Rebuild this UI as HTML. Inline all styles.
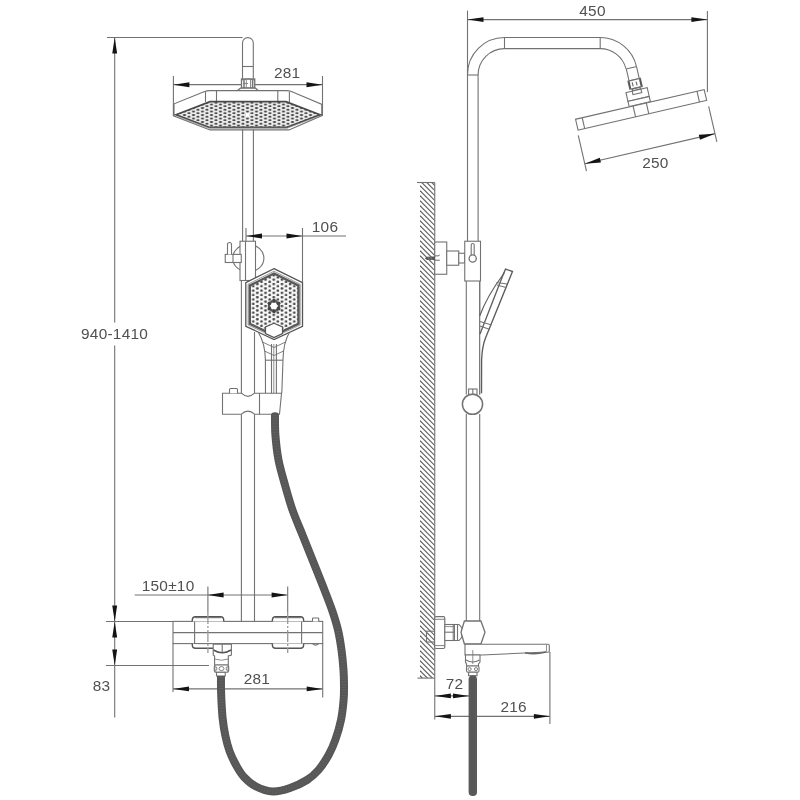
<!DOCTYPE html>
<html><head><meta charset="utf-8"><style>
html,body{margin:0;padding:0;background:#fff;}
svg{display:block;font-family:"Liberation Sans",sans-serif;will-change:transform;}
</style></head><body>
<svg width="800" height="800" viewBox="0 0 800 800">
<rect width="800" height="800" fill="#fff"/>
<defs>
<pattern id="dots" width="9" height="3.5" patternUnits="userSpaceOnUse" x="245.25" y="114.125">
<rect width="9" height="3.5" fill="#f2f2f2"/>
<ellipse cx="2.25" cy="0.875" rx="1.6" ry="1.1" fill="#484848"/>
<ellipse cx="6.75" cy="2.625" rx="1.6" ry="1.1" fill="#484848"/>
</pattern>
<pattern id="hdots" width="8.2" height="4.4" patternUnits="userSpaceOnUse" x="271.7" y="304.9">
<rect width="8.2" height="4.4" fill="#fafafa"/>
<circle cx="2.05" cy="1.1" r="1.35" fill="#4a4a4a"/>
<circle cx="6.15" cy="3.3" r="1.35" fill="#4a4a4a"/>
</pattern>
<clipPath id="wallclip"><rect x="420" y="182.5" width="14.75" height="495.6"/></clipPath>
</defs>
<line x1="114.7" y1="37.5" x2="114.7" y2="322.5" stroke="#727272" stroke-width="1.1" />
<line x1="114.7" y1="345.6" x2="114.7" y2="717.5" stroke="#727272" stroke-width="1.1" />
<line x1="107" y1="37.5" x2="242.5" y2="37.5" stroke="#727272" stroke-width="1.1" />
<polygon points="114.70,37.50 112.25,53.50 117.15,53.50" fill="#141414"/>
<polygon points="114.70,621.50 117.15,605.50 112.25,605.50" fill="#141414"/>
<polygon points="114.70,621.50 112.25,637.50 117.15,637.50" fill="#141414"/>
<polygon points="114.70,665.50 117.15,649.50 112.25,649.50" fill="#141414"/>
<line x1="106" y1="621.5" x2="173" y2="621.5" stroke="#727272" stroke-width="1.1" />
<line x1="106" y1="665.5" x2="209" y2="665.5" stroke="#727272" stroke-width="1.1" />
<text x="114.6" y="339.4" font-size="15.4" text-anchor="middle" fill="#505050" letter-spacing="0.25">940-1410</text>
<text x="101.6" y="691.2" font-size="15.4" text-anchor="middle" fill="#505050" letter-spacing="0.25">83</text>
<path d="M242.5,91 L242.5,43 A5.4,5.4 0 0 1 253.3,43 L253.3,91" stroke="#727272" stroke-width="1.1" fill="#fff" />
<line x1="242.5" y1="66.5" x2="253.3" y2="66.5" stroke="#727272" stroke-width="1.1" />
<line x1="173.4" y1="76" x2="173.4" y2="116" stroke="#727272" stroke-width="1.1" />
<line x1="322.5" y1="76" x2="322.5" y2="116" stroke="#727272" stroke-width="1.1" />
<line x1="173.4" y1="84.7" x2="322.5" y2="84.7" stroke="#727272" stroke-width="1.3" />
<polygon points="173.40,84.70 189.40,87.15 189.40,82.25" fill="#141414"/>
<polygon points="322.50,84.70 306.50,82.25 306.50,87.15" fill="#141414"/>
<text x="287.2" y="77.75" font-size="15.4" text-anchor="middle" fill="#505050" letter-spacing="0.25">281</text>
<rect x="241.5" y="79" width="13.25" height="9" rx="0" stroke="#727272" stroke-width="1.3" fill="#fff"/>
<path d="M241.5,80 Q248,77.5 254.75,80" stroke="#727272" stroke-width="1" fill="none" />
<line x1="244" y1="80" x2="244" y2="88" stroke="#555" stroke-width="1.2" />
<line x1="246.3" y1="80" x2="246.3" y2="88" stroke="#727272" stroke-width="0.8" />
<line x1="250.5" y1="80" x2="250.5" y2="88" stroke="#727272" stroke-width="0.8" />
<line x1="252.6" y1="80" x2="252.6" y2="88" stroke="#777" stroke-width="1.6" />
<line x1="243" y1="83.5" x2="248" y2="83.5" stroke="#727272" stroke-width="0.8" />
<path d="M237.5,90.5 L240.5,88.2 L255.5,88.2 L258,90.5 Z" stroke="#727272" stroke-width="1.2" fill="#fff" />
<path d="M210,90.6 L286,90.6 Q289,90.6 292,91.8 L322,104.4 L322,115.6 L289,129.9 L210,129.9 L173.5,115.8 L173.5,104 L204,91.8 Q207,90.6 210,90.6 Z" stroke="#727272" stroke-width="1.1" fill="#fff" />
<line x1="205.5" y1="92" x2="205.5" y2="102" stroke="#727272" stroke-width="1.1" />
<line x1="216.5" y1="90.6" x2="216.5" y2="101.5" stroke="#727272" stroke-width="1.1" />
<line x1="277.8" y1="90.6" x2="277.8" y2="101.5" stroke="#727272" stroke-width="1.1" />
<line x1="289.4" y1="92" x2="289.4" y2="102" stroke="#727272" stroke-width="1.1" />
<line x1="174" y1="104" x2="174" y2="116" stroke="#727272" stroke-width="1.1" />
<line x1="322" y1="104.4" x2="322" y2="116" stroke="#727272" stroke-width="1.1" />
<path d="M176,114.8 L210,101.6 L286,101.6 L320,114.8 L287,127.3 L209,127.3 Z" stroke="#4a4a4a" stroke-width="1.7" fill="url(#dots)" />
<rect x="246" y="113.5" width="3" height="3" fill="#fff"/>
<path d="M178,116.6 L209,128.2 L287,128.2 L318,116.6" stroke="#999" stroke-width="0.7" fill="none" />
<line x1="242.6" y1="129.6" x2="242.6" y2="241.25" stroke="#727272" stroke-width="1.1" />
<line x1="253.4" y1="129.6" x2="253.4" y2="241.25" stroke="#727272" stroke-width="1.1" />
<line x1="246" y1="228" x2="246" y2="281" stroke="#727272" stroke-width="1.1" />
<line x1="302.5" y1="228" x2="302.5" y2="283" stroke="#727272" stroke-width="1.1" />
<line x1="246" y1="236" x2="346" y2="236" stroke="#727272" stroke-width="1.1" />
<polygon points="246.00,236.00 262.00,238.45 262.00,233.55" fill="#141414"/>
<polygon points="302.50,236.00 286.50,233.55 286.50,238.45" fill="#141414"/>
<text x="325" y="232.4" font-size="15.4" text-anchor="middle" fill="#505050" letter-spacing="0.25">106</text>
<ellipse cx="248.3" cy="258.2" rx="15.6" ry="13.8" fill="#fff" stroke="#727272" stroke-width="1.1"/>
<rect x="240" y="241.25" width="15.5" height="39.25" rx="0" stroke="#727272" stroke-width="1.1" fill="#fff"/>
<line x1="245.5" y1="241.25" x2="245.5" y2="280.5" stroke="#727272" stroke-width="1.1" />
<rect x="225.25" y="254.4" width="16" height="8.1" rx="0" stroke="#727272" stroke-width="1.1" fill="#fff"/>
<line x1="233" y1="254.4" x2="233" y2="262.5" stroke="#727272" stroke-width="1.1" />
<path d="M227.5,254.4 L227.5,244.5 A2,2 0 0 1 231.5,244.5 L231.5,254.4" stroke="#727272" stroke-width="1.1" fill="#fff" />
<line x1="241.4" y1="280.5" x2="241.4" y2="393.2" stroke="#727272" stroke-width="1.1" />
<line x1="254.5" y1="332" x2="254.5" y2="393.2" stroke="#727272" stroke-width="1.1" />
<line x1="241.4" y1="414.2" x2="241.4" y2="621.4" stroke="#727272" stroke-width="1.1" />
<line x1="254.5" y1="414.2" x2="254.5" y2="621.4" stroke="#727272" stroke-width="1.1" />
<path d="M274,268.6 L302.5,282.6 L302.5,326.3 L274,339.5 L245.8,326.3 L245.8,282.6 Z" stroke="#555" stroke-width="1.3" fill="#fff" />
<path d="M274,271.2 L300.2,284.2 L300.2,325 L274,337.2 L248.1,325 L248.1,284.2 Z" stroke="#888" stroke-width="0.8" fill="none" />
<path d="M274,273.5 L298.5,285.6 L298.5,323.8 L274,335.3 L249.8,323.8 L249.8,285.6 Z" stroke="#5a5a5a" stroke-width="2.4" fill="url(#hdots)" />
<circle cx="274.00" cy="311.30" r="1.9" fill="#444"/>
<circle cx="279.00" cy="306.00" r="1.3" fill="#555"/>
<circle cx="269.41" cy="308.65" r="1.9" fill="#444"/>
<circle cx="276.50" cy="310.33" r="1.3" fill="#555"/>
<circle cx="269.41" cy="303.35" r="1.9" fill="#444"/>
<circle cx="271.50" cy="310.33" r="1.3" fill="#555"/>
<circle cx="274.00" cy="300.70" r="1.9" fill="#444"/>
<circle cx="269.00" cy="306.00" r="1.3" fill="#555"/>
<circle cx="278.59" cy="303.35" r="1.9" fill="#444"/>
<circle cx="271.50" cy="301.67" r="1.3" fill="#555"/>
<circle cx="278.59" cy="308.65" r="1.9" fill="#444"/>
<circle cx="276.50" cy="301.67" r="1.3" fill="#555"/>
<circle cx="274" cy="306" r="3.0" fill="#fff"/>
<path d="M265.5,331 L265.5,327 L274,323.3 L282.5,327 L282.5,333.5 L274,337.5 L265.5,333.5 Z" stroke="#555" stroke-width="1.2" fill="#fff" />
<path d="M261,339 L274,345 L287,339 C284.5,342 283.1,350 283,360 L282.5,394 L265.5,394 L265.4,360 C265.3,350 263.5,342 261,339 Z" fill="#fff" stroke="none"/>
<path d="M258.3,332.3 C263,340 265.3,350 265.4,360 L265.5,394" stroke="#727272" stroke-width="1.1" fill="none" />
<path d="M289.5,332.3 C285,340 283.1,350 283,360 L281.8,393.2" stroke="#727272" stroke-width="1.1" fill="none" />
<line x1="271.5" y1="344" x2="271.5" y2="394" stroke="#727272" stroke-width="1.1" />
<line x1="273.8" y1="344" x2="273.8" y2="394" stroke="#727272" stroke-width="0.8" />
<line x1="276.4" y1="344" x2="276.4" y2="394" stroke="#727272" stroke-width="1.1" />
<line x1="265.4" y1="360.2" x2="283" y2="360.2" stroke="#727272" stroke-width="1.1" />
<path d="M262.5,342 L274,347.5 L285.5,342" stroke="#727272" stroke-width="0.9" fill="none" />
<path d="M264.5,351 L274,355.5 L283.5,351" stroke="#727272" stroke-width="0.9" fill="none" />
<path d="M222.5,393.2 L241.4,393.2 Q248,399.5 254.5,393.2 L281.5,393.2 L279.5,414.2 L254.5,414.2 Q248,408 241.4,414.2 L222.5,414.2 Z" stroke="#727272" stroke-width="1.1" fill="#fff" />
<line x1="259.5" y1="393.2" x2="259.5" y2="414.2" stroke="#727272" stroke-width="1.1" />
<path d="M229.5,393.2 L229.5,389.5 Q229.5,388.5 230.5,388.5 L236.5,388.5 Q237.5,388.5 237.5,389.5 L237.5,393.2" stroke="#727272" stroke-width="1.1" fill="#fff" />
<line x1="134.7" y1="595" x2="287.6" y2="595" stroke="#727272" stroke-width="1.1" />
<polygon points="207.60,595.00 223.60,597.45 223.60,592.55" fill="#141414"/>
<polygon points="287.60,595.00 271.60,592.55 271.60,597.45" fill="#141414"/>
<text x="168.1" y="591.25" font-size="15.4" text-anchor="middle" fill="#505050" letter-spacing="0.25">150±10</text>
<rect x="173" y="621.4" width="149.7" height="22.2" rx="0" stroke="#727272" stroke-width="1.1" fill="#fff"/>
<line x1="173" y1="632.6" x2="322.7" y2="632.6" stroke="#727272" stroke-width="1.1" />
<path d="M192.3,621.4 L192.3,620 Q192.3,616.8 195.5,616.8 L220.5,616.8 Q223.7,616.8 223.7,620 L223.7,621.4" stroke="#555" stroke-width="1.4" fill="#fff" />
<line x1="195" y1="617.6" x2="221" y2="617.6" stroke="#777" stroke-width="1.2" />
<path d="M192.3,643.6 L192.3,645 Q192.3,648.2 195.5,648.2 L213,648.2" stroke="#555" stroke-width="1.4" fill="#fff" />
<line x1="194.6" y1="621.4" x2="194.6" y2="643.6" stroke="#727272" stroke-width="1.1" />
<path d="M272.4,621.4 L272.4,620 Q272.4,616.8 275.6,616.8 L300.4,616.8 Q303.6,616.8 303.6,620 L303.6,621.4" stroke="#555" stroke-width="1.4" fill="#fff" />
<line x1="275" y1="617.6" x2="301" y2="617.6" stroke="#777" stroke-width="1.2" />
<path d="M272.4,643.6 L272.4,645 Q272.4,648.2 275.6,648.2 L300.4,648.2 Q303.6,648.2 303.6,645 L303.6,643.6" stroke="#555" stroke-width="1.4" fill="#fff" />
<line x1="301.6" y1="621.4" x2="301.6" y2="643.6" stroke="#727272" stroke-width="1.1" />
<path d="M312.5,621.4 L312.5,618.5 Q312.5,618 313,618 L318.2,618 Q318.7,618 318.7,618.5 L318.7,621.4" stroke="#727272" stroke-width="1.1" fill="#fff" />
<path d="M312.5,643.6 Q315.6,646.5 318.7,643.6" stroke="#727272" stroke-width="1.1" fill="none" />
<line x1="207.9" y1="586.6" x2="207.9" y2="612" stroke="#727272" stroke-width="1.1" />
<line x1="287.7" y1="586.6" x2="287.7" y2="612" stroke="#727272" stroke-width="1.1" />
<line x1="207.9" y1="612" x2="207.9" y2="653" stroke="#999" stroke-width="1.3" stroke-dasharray="12 2 2 2"/>
<line x1="287.7" y1="612" x2="287.7" y2="653" stroke="#999" stroke-width="1.3" stroke-dasharray="12 2 2 2"/>
<path d="M213.2,644.2 L231.4,644.2 L231.4,655 L228.3,656 L228.3,665 L214.6,665 L214.6,656 L213.2,655 Z" stroke="#727272" stroke-width="1.1" fill="#fff" />
<line x1="222.2" y1="644.2" x2="222.2" y2="652" stroke="#727272" stroke-width="1.1" />
<path d="M213.5,650 Q222.3,655.5 231,650" stroke="#555" stroke-width="1.5" fill="none" />
<path d="M214.6,659 Q221.5,661.5 228.3,659" stroke="#727272" stroke-width="0.8" fill="none" />
<rect x="214.3" y="665" width="14.4" height="7.3" rx="2" stroke="#727272" stroke-width="1.1" fill="#fff"/>
<ellipse cx="221.5" cy="668.6" rx="2.5" ry="2" fill="none" stroke="#727272" stroke-width="0.9"/>
<ellipse cx="215.8" cy="668.6" rx="1" ry="2" fill="none" stroke="#727272" stroke-width="0.9"/>
<ellipse cx="227.2" cy="668.6" rx="1" ry="2" fill="none" stroke="#727272" stroke-width="0.9"/>
<rect x="216.5" y="672.3" width="8.75" height="3.7" rx="0" stroke="#727272" stroke-width="1.1" fill="#fff"/>
<line x1="173" y1="643.6" x2="173" y2="692" stroke="#727272" stroke-width="1.1" />
<line x1="322.7" y1="643.6" x2="322.7" y2="697.5" stroke="#727272" stroke-width="1.1" />
<line x1="173" y1="688.9" x2="322.7" y2="688.9" stroke="#727272" stroke-width="1.1" />
<polygon points="173.00,688.90 189.00,691.35 189.00,686.45" fill="#141414"/>
<polygon points="322.70,688.90 306.70,686.45 306.70,691.35" fill="#141414"/>
<text x="256.9" y="684.4" font-size="15.4" text-anchor="middle" fill="#505050" letter-spacing="0.25">281</text>
<path d="M275,414.8 C275.07,418.17 274.82,427.47 275.4,435 C275.98,442.53 276.90,451.67 278.5,460 C280.10,468.33 282.67,476.67 285,485 C287.33,493.33 289.58,501.67 292.5,510 C295.42,518.33 299.17,526.67 302.5,535 C305.83,543.33 309.17,551.67 312.5,560 C315.83,568.33 319.25,576.67 322.5,585 C325.75,593.33 329.42,602.50 332,610 C334.58,617.50 336.42,623.33 338,630 C339.58,636.67 340.58,643.33 341.5,650 C342.42,656.67 343.08,664.17 343.5,670 C343.92,675.83 343.98,680.00 344,685 C344.02,690.00 344.10,694.17 343.6,700 C343.10,705.83 342.38,713.33 341,720 C339.62,726.67 337.37,734.17 335.3,740 C333.23,745.83 331.40,750.00 328.6,755 C325.80,760.00 322.10,765.83 318.5,770 C314.90,774.17 311.75,777.00 307,780 C302.25,783.00 295.67,786.08 290,788 C284.33,789.92 278.67,791.75 273,791.5 C267.33,791.25 260.83,788.92 256,786.5 C251.17,784.08 247.33,780.58 244,777 C240.67,773.42 238.42,769.33 236,765 C233.58,760.67 231.30,756.00 229.5,751 C227.70,746.00 226.35,740.50 225.2,735 C224.05,729.50 223.23,723.83 222.6,718 C221.97,712.17 221.67,705.00 221.4,700 C221.13,695.00 221.07,692.00 221,688 C220.93,684.00 221.00,678.00 221,676" stroke="#565656" stroke-width="8.0" fill="none" />
<path d="M271,415.5 A4,3.2 0 0 1 279,415.5 Z" fill="#565656"/>
<path d="M275,414.8 C275.07,418.17 274.82,427.47 275.4,435 C275.98,442.53 276.90,451.67 278.5,460 C280.10,468.33 282.67,476.67 285,485 C287.33,493.33 289.58,501.67 292.5,510 C295.42,518.33 299.17,526.67 302.5,535 C305.83,543.33 309.17,551.67 312.5,560 C315.83,568.33 319.25,576.67 322.5,585 C325.75,593.33 329.42,602.50 332,610 C334.58,617.50 336.42,623.33 338,630 C339.58,636.67 340.58,643.33 341.5,650 C342.42,656.67 343.08,664.17 343.5,670 C343.92,675.83 343.98,680.00 344,685 C344.02,690.00 344.10,694.17 343.6,700 C343.10,705.83 342.38,713.33 341,720 C339.62,726.67 337.37,734.17 335.3,740 C333.23,745.83 331.40,750.00 328.6,755 C325.80,760.00 322.10,765.83 318.5,770 C314.90,774.17 311.75,777.00 307,780 C302.25,783.00 295.67,786.08 290,788 C284.33,789.92 278.67,791.75 273,791.5 C267.33,791.25 260.83,788.92 256,786.5 C251.17,784.08 247.33,780.58 244,777 C240.67,773.42 238.42,769.33 236,765 C233.58,760.67 231.30,756.00 229.5,751 C227.70,746.00 226.35,740.50 225.2,735 C224.05,729.50 223.23,723.83 222.6,718 C221.97,712.17 221.67,705.00 221.4,700 C221.13,695.00 221.07,692.00 221,688 C220.93,684.00 221.00,678.00 221,676" stroke="#5f5f5f" stroke-width="5.0" fill="none" stroke-dasharray="1.2 1.6"/>
<line x1="467.5" y1="10.6" x2="467.5" y2="75" stroke="#727272" stroke-width="1.1" />
<line x1="707.4" y1="11" x2="707.4" y2="92" stroke="#727272" stroke-width="1.1" />
<line x1="467.5" y1="19.6" x2="707.4" y2="19.6" stroke="#727272" stroke-width="1.1" />
<polygon points="467.50,19.60 483.50,22.05 483.50,17.15" fill="#141414"/>
<polygon points="707.40,19.60 691.40,17.15 691.40,22.05" fill="#141414"/>
<text x="592.5" y="15.6" font-size="15.4" text-anchor="middle" fill="#505050" letter-spacing="0.25">450</text>
<path d="M467.5,241.25 L467.5,74.5 A37,37 0 0 1 504.5,37.5 L600,37.5 A37.5,37.5 0 0 1 636.5,66.6" stroke="#727272" stroke-width="1.1" fill="none" />
<path d="M478.1,241.25 L478.1,75 A26.4,26.4 0 0 1 504.5,48.6 L600,48.6 A26.6,26.6 0 0 1 625.9,68.6" stroke="#727272" stroke-width="1.1" fill="none" />
<line x1="467.5" y1="75" x2="478.1" y2="75" stroke="#727272" stroke-width="1.1" />
<line x1="504.5" y1="37.5" x2="504.5" y2="48.6" stroke="#727272" stroke-width="1.1" />
<line x1="600.2" y1="37.5" x2="600.2" y2="48.6" stroke="#727272" stroke-width="1.1" />
<g transform="translate(631.4,67.75) rotate(-13)">
<rect x="-5.25" y="0" width="10.5" height="12.3" rx="0" stroke="#727272" stroke-width="1.1" fill="#fff"/>
<rect x="-6.3" y="12.3" width="12.6" height="8.4" rx="0" stroke="#727272" stroke-width="1.3" fill="#fff"/>
<line x1="-5.6" y1="12.8" x2="-5.6" y2="20.2" stroke="#555" stroke-width="1.6" />
<line x1="5.6" y1="12.8" x2="5.6" y2="20.2" stroke="#555" stroke-width="1.6" />
<line x1="-2.5" y1="14.5" x2="-2.5" y2="18.5" stroke="#727272" stroke-width="1.2" />
<line x1="1.5" y1="14.5" x2="1.5" y2="18.5" stroke="#727272" stroke-width="1.2" />
<rect x="-4" y="20.9" width="8" height="2.2" rx="0" stroke="#727272" stroke-width="1.2" fill="#ddd"/>
<rect x="-10.9" y="23" width="21.8" height="9" rx="0" stroke="#727272" stroke-width="1.1" fill="#fff"/>
<rect x="-4.5" y="23" width="9" height="3.5" rx="0" stroke="#727272" stroke-width="1.1" fill="#fff"/>
<rect x="-10.9" y="32" width="21.8" height="5.3" rx="0" stroke="#727272" stroke-width="1.1" fill="#fff"/>
<rect x="-66" y="37.6" width="132" height="11.2" rx="0" stroke="#727272" stroke-width="1.1" fill="#fff"/>
<line x1="-59.2" y1="37.6" x2="-59.2" y2="48.8" stroke="#727272" stroke-width="1.1" />
<line x1="58.6" y1="37.6" x2="58.6" y2="48.8" stroke="#727272" stroke-width="1.1" />
<line x1="-7" y1="37.6" x2="-7" y2="48.8" stroke="#727272" stroke-width="1.1" />
<line x1="6.6" y1="37.6" x2="6.6" y2="48.8" stroke="#727272" stroke-width="1.1" />
<line x1="-67" y1="54" x2="-67" y2="90.5" stroke="#727272" stroke-width="1.1" />
<line x1="66.6" y1="55" x2="66.6" y2="91.5" stroke="#727272" stroke-width="1.1" />
<line x1="-67" y1="83" x2="66.6" y2="83" stroke="#727272" stroke-width="1.1" />
<polygon points="-67.00,83.00 -51.00,85.45 -51.00,80.55" fill="#141414"/>
<polygon points="66.60,83.00 50.60,80.55 50.60,85.45" fill="#141414"/>
</g>
<text x="655.4" y="168.4" font-size="15.4" text-anchor="middle" fill="#505050" letter-spacing="0.25">250</text>
<g clip-path="url(#wallclip)" stroke="#606060" stroke-width="1.2"><line x1="420" y1="150.75" x2="436" y2="166.75"/><line x1="420" y1="155.75" x2="436" y2="171.75"/><line x1="420" y1="160.75" x2="436" y2="176.75"/><line x1="420" y1="165.75" x2="436" y2="181.75"/><line x1="420" y1="170.75" x2="436" y2="186.75"/><line x1="420" y1="175.75" x2="436" y2="191.75"/><line x1="420" y1="180.75" x2="436" y2="196.75"/><line x1="420" y1="185.75" x2="436" y2="201.75"/><line x1="420" y1="190.75" x2="436" y2="206.75"/><line x1="420" y1="195.75" x2="436" y2="211.75"/><line x1="420" y1="200.75" x2="436" y2="216.75"/><line x1="420" y1="205.75" x2="436" y2="221.75"/><line x1="420" y1="210.75" x2="436" y2="226.75"/><line x1="420" y1="215.75" x2="436" y2="231.75"/><line x1="420" y1="220.75" x2="436" y2="236.75"/><line x1="420" y1="225.75" x2="436" y2="241.75"/><line x1="420" y1="230.75" x2="436" y2="246.75"/><line x1="420" y1="235.75" x2="436" y2="251.75"/><line x1="420" y1="240.75" x2="436" y2="256.75"/><line x1="420" y1="245.75" x2="436" y2="261.75"/><line x1="420" y1="250.75" x2="436" y2="266.75"/><line x1="420" y1="255.75" x2="436" y2="271.75"/><line x1="420" y1="260.75" x2="436" y2="276.75"/><line x1="420" y1="265.75" x2="436" y2="281.75"/><line x1="420" y1="270.75" x2="436" y2="286.75"/><line x1="420" y1="275.75" x2="436" y2="291.75"/><line x1="420" y1="280.75" x2="436" y2="296.75"/><line x1="420" y1="285.75" x2="436" y2="301.75"/><line x1="420" y1="290.75" x2="436" y2="306.75"/><line x1="420" y1="295.75" x2="436" y2="311.75"/><line x1="420" y1="300.75" x2="436" y2="316.75"/><line x1="420" y1="305.75" x2="436" y2="321.75"/><line x1="420" y1="310.75" x2="436" y2="326.75"/><line x1="420" y1="315.75" x2="436" y2="331.75"/><line x1="420" y1="320.75" x2="436" y2="336.75"/><line x1="420" y1="325.75" x2="436" y2="341.75"/><line x1="420" y1="330.75" x2="436" y2="346.75"/><line x1="420" y1="335.75" x2="436" y2="351.75"/><line x1="420" y1="340.75" x2="436" y2="356.75"/><line x1="420" y1="345.75" x2="436" y2="361.75"/><line x1="420" y1="350.75" x2="436" y2="366.75"/><line x1="420" y1="355.75" x2="436" y2="371.75"/><line x1="420" y1="360.75" x2="436" y2="376.75"/><line x1="420" y1="365.75" x2="436" y2="381.75"/><line x1="420" y1="370.75" x2="436" y2="386.75"/><line x1="420" y1="375.75" x2="436" y2="391.75"/><line x1="420" y1="380.75" x2="436" y2="396.75"/><line x1="420" y1="385.75" x2="436" y2="401.75"/><line x1="420" y1="390.75" x2="436" y2="406.75"/><line x1="420" y1="395.75" x2="436" y2="411.75"/><line x1="420" y1="400.75" x2="436" y2="416.75"/><line x1="420" y1="405.75" x2="436" y2="421.75"/><line x1="420" y1="410.75" x2="436" y2="426.75"/><line x1="420" y1="415.75" x2="436" y2="431.75"/><line x1="420" y1="420.75" x2="436" y2="436.75"/><line x1="420" y1="425.75" x2="436" y2="441.75"/><line x1="420" y1="430.75" x2="436" y2="446.75"/><line x1="420" y1="435.75" x2="436" y2="451.75"/><line x1="420" y1="440.75" x2="436" y2="456.75"/><line x1="420" y1="445.75" x2="436" y2="461.75"/><line x1="420" y1="450.75" x2="436" y2="466.75"/><line x1="420" y1="455.75" x2="436" y2="471.75"/><line x1="420" y1="460.75" x2="436" y2="476.75"/><line x1="420" y1="465.75" x2="436" y2="481.75"/><line x1="420" y1="470.75" x2="436" y2="486.75"/><line x1="420" y1="475.75" x2="436" y2="491.75"/><line x1="420" y1="480.75" x2="436" y2="496.75"/><line x1="420" y1="485.75" x2="436" y2="501.75"/><line x1="420" y1="490.75" x2="436" y2="506.75"/><line x1="420" y1="495.75" x2="436" y2="511.75"/><line x1="420" y1="500.75" x2="436" y2="516.75"/><line x1="420" y1="505.75" x2="436" y2="521.75"/><line x1="420" y1="510.75" x2="436" y2="526.75"/><line x1="420" y1="515.75" x2="436" y2="531.75"/><line x1="420" y1="520.75" x2="436" y2="536.75"/><line x1="420" y1="525.75" x2="436" y2="541.75"/><line x1="420" y1="530.75" x2="436" y2="546.75"/><line x1="420" y1="535.75" x2="436" y2="551.75"/><line x1="420" y1="540.75" x2="436" y2="556.75"/><line x1="420" y1="545.75" x2="436" y2="561.75"/><line x1="420" y1="550.75" x2="436" y2="566.75"/><line x1="420" y1="555.75" x2="436" y2="571.75"/><line x1="420" y1="560.75" x2="436" y2="576.75"/><line x1="420" y1="565.75" x2="436" y2="581.75"/><line x1="420" y1="570.75" x2="436" y2="586.75"/><line x1="420" y1="575.75" x2="436" y2="591.75"/><line x1="420" y1="580.75" x2="436" y2="596.75"/><line x1="420" y1="585.75" x2="436" y2="601.75"/><line x1="420" y1="590.75" x2="436" y2="606.75"/><line x1="420" y1="595.75" x2="436" y2="611.75"/><line x1="420" y1="600.75" x2="436" y2="616.75"/><line x1="420" y1="605.75" x2="436" y2="621.75"/><line x1="420" y1="610.75" x2="436" y2="626.75"/><line x1="420" y1="615.75" x2="436" y2="631.75"/><line x1="420" y1="620.75" x2="436" y2="636.75"/><line x1="420" y1="625.75" x2="436" y2="641.75"/><line x1="420" y1="630.75" x2="436" y2="646.75"/><line x1="420" y1="635.75" x2="436" y2="651.75"/><line x1="420" y1="640.75" x2="436" y2="656.75"/><line x1="420" y1="645.75" x2="436" y2="661.75"/><line x1="420" y1="650.75" x2="436" y2="666.75"/><line x1="420" y1="655.75" x2="436" y2="671.75"/><line x1="420" y1="660.75" x2="436" y2="676.75"/><line x1="420" y1="665.75" x2="436" y2="681.75"/><line x1="420" y1="670.75" x2="436" y2="686.75"/><line x1="420" y1="675.75" x2="436" y2="691.75"/><line x1="420" y1="680.75" x2="436" y2="696.75"/><line x1="420" y1="685.75" x2="436" y2="701.75"/><line x1="420" y1="690.75" x2="436" y2="706.75"/><line x1="420" y1="695.75" x2="436" y2="711.75"/></g>
<line x1="417" y1="182.5" x2="434.75" y2="182.5" stroke="#727272" stroke-width="1.1" />
<line x1="417.5" y1="678.1" x2="434.75" y2="678.1" stroke="#727272" stroke-width="1.1" />
<line x1="434.75" y1="182.5" x2="434.75" y2="719.5" stroke="#727272" stroke-width="1.1" />
<rect x="434.75" y="242" width="12" height="32.25" rx="0" stroke="#727272" stroke-width="1.1" fill="#fff"/>
<rect x="446.75" y="251" width="12" height="14.25" rx="0" stroke="#727272" stroke-width="1.1" fill="#fff"/>
<rect x="458.75" y="253.25" width="6" height="9.75" rx="0" stroke="#727272" stroke-width="1.1" fill="#fff"/>
<rect x="464.75" y="241.25" width="15.75" height="39.75" rx="0" stroke="#727272" stroke-width="1.1" fill="#fff"/>
<path d="M471.2,255 L471.2,245 A1.5,1.5 0 0 1 474.2,245 L474.2,255" stroke="#727272" stroke-width="1.1" fill="#fff" />
<circle cx="472.7" cy="258.5" r="3.6" fill="#fff" stroke="#727272" stroke-width="1.3"/>
<path d="M424.8,258.3 L427,256.7 L435,256.6 L435,260 L427,260 Z" fill="#555"/>
<path d="M428,256.8 L429.5,260 M430.5,256.8 L432,260" stroke="#999" stroke-width="0.6" fill="none" />
<path d="M435,255.9 L438,255.9 Q439.3,255.6 439.8,254.8" stroke="#555" stroke-width="0.9" fill="none" />
<path d="M435,260.2 L439.8,260.2" stroke="#555" stroke-width="0.9" fill="none" />
<line x1="466.3" y1="281" x2="466.3" y2="394.5" stroke="#727272" stroke-width="1.1" />
<line x1="479.7" y1="281" x2="479.7" y2="394.5" stroke="#727272" stroke-width="1.1" />
<line x1="466.3" y1="414" x2="466.3" y2="621" stroke="#727272" stroke-width="1.1" />
<line x1="479.7" y1="414" x2="479.7" y2="621" stroke="#727272" stroke-width="1.1" />
<path d="M505.5,269 L512.5,271.5 L492,322 L485.5,338 C483.5,343 482,350 481.6,360 L481.5,393.2 L479.7,393.2 L479.7,316 C486,299 496,284 503.5,274 Z" fill="#fff" stroke="none"/>
<line x1="479.7" y1="281" x2="479.7" y2="394.5" stroke="#727272" stroke-width="1.1" />
<path d="M503.5,274 L505.5,269 L512.5,271.5 L492,322 L485.5,338 C483.5,343 482,350 481.6,360 L481.5,393.2" stroke="#5c5c5c" stroke-width="1.35" fill="none" />
<path d="M503.5,274 C496,284 486,299 479.7,316" stroke="#606060" stroke-width="1.2" fill="none" />
<path d="M504,272.5 L480,334" stroke="#5c5c5c" stroke-width="1.3" fill="none" />
<line x1="496.5" y1="282.5" x2="507" y2="284" stroke="#727272" stroke-width="1.1" />
<line x1="497" y1="285" x2="506" y2="287.5" stroke="#727272" stroke-width="1.1" />
<line x1="480" y1="321.5" x2="491.5" y2="325" stroke="#727272" stroke-width="1.1" />
<line x1="480" y1="326" x2="490" y2="329.5" stroke="#727272" stroke-width="1.1" />
<rect x="468.6" y="389" width="8.4" height="5.4" rx="0" stroke="#727272" stroke-width="1.1" fill="#fff"/>
<line x1="472.8" y1="389" x2="472.8" y2="394.4" stroke="#727272" stroke-width="1.1" />
<circle cx="472.5" cy="404.25" r="10.1" fill="#fff" stroke="#727272" stroke-width="1.5"/>
<rect x="426.5" y="631.2" width="8" height="10.8" rx="0" stroke="#727272" stroke-width="1.1" fill="none"/>
<rect x="434.6" y="616.7" width="10.2" height="31.8" rx="1.5" stroke="#727272" stroke-width="1.2" fill="#fff"/>
<line x1="434.6" y1="619.3" x2="444.8" y2="619.3" stroke="#727272" stroke-width="0.9" />
<line x1="434.6" y1="645.6" x2="444.8" y2="645.6" stroke="#727272" stroke-width="0.9" />
<rect x="444.8" y="624.5" width="9.6" height="16" rx="0" stroke="#727272" stroke-width="1.1" fill="#fff"/>
<line x1="444.8" y1="626.6" x2="454.4" y2="626.6" stroke="#727272" stroke-width="0.8" />
<line x1="444.8" y1="632.2" x2="454.4" y2="632.2" stroke="#727272" stroke-width="1.1" />
<line x1="453.2" y1="624.5" x2="453.2" y2="640.5" stroke="#727272" stroke-width="0.9" />
<path d="M454.4,624.5 L459,624.5 L462,628 L462,637 L459,640.5 L454.4,640.5 Z" stroke="#727272" stroke-width="1.1" fill="#fff" />
<line x1="457.5" y1="624.5" x2="457.5" y2="640.5" stroke="#727272" stroke-width="1.1" />
<path d="M464.4,621 L480.9,621 L485,632.3 L480.9,644 L464.4,644 L461,632.3 Z" stroke="#727272" stroke-width="1.3" fill="#fff" />
<path d="M465,644.3 L548,644.3 Q549.3,644.3 549.3,645.5 L549.3,651.5 Q549,652.5 546,652 L530,652.8 L482,655 L465,655 Z" stroke="#727272" stroke-width="1.1" fill="#fff" />
<path d="M525,652.8 Q535,655 546,652" stroke="#666" stroke-width="1.4" fill="none" />
<line x1="546.5" y1="644.6" x2="546.5" y2="651.5" stroke="#727272" stroke-width="0.8" />
<path d="M465.5,655 L480,655 L480,662 L478.5,664 L478.5,666 L466.5,666 L466.5,664 L465.5,662 Z" stroke="#727272" stroke-width="1.1" fill="#fff" />
<line x1="472.8" y1="650" x2="472.8" y2="664" stroke="#727272" stroke-width="0.8" />
<path d="M466,660 Q472.8,664 479.5,660" stroke="#727272" stroke-width="1.2" fill="none" />
<rect x="466.5" y="666" width="12.5" height="6.2" rx="1.5" stroke="#727272" stroke-width="1.1" fill="#fff"/>
<ellipse cx="469.6" cy="669.1" rx="1.6" ry="1.5" fill="none" stroke="#727272" stroke-width="0.9"/>
<ellipse cx="476" cy="669.1" rx="1.6" ry="1.5" fill="none" stroke="#727272" stroke-width="0.9"/>
<rect x="468.6" y="672.2" width="8.4" height="3.5" rx="0" stroke="#727272" stroke-width="1.1" fill="#fff"/>
<line x1="549.9" y1="652" x2="549.9" y2="723.9" stroke="#727272" stroke-width="1.1" />
<line x1="434.9" y1="695.9" x2="469" y2="695.9" stroke="#727272" stroke-width="1.1" />
<polygon points="434.90,695.90 450.90,698.35 450.90,693.45" fill="#141414"/>
<polygon points="469.00,695.90 453.00,693.45 453.00,698.35" fill="#141414"/>
<text x="454.5" y="688.9" font-size="15.4" text-anchor="middle" fill="#505050" letter-spacing="0.25">72</text>
<line x1="434.9" y1="716.35" x2="549.9" y2="716.35" stroke="#727272" stroke-width="1.1" />
<polygon points="434.90,716.35 450.90,718.80 450.90,713.90" fill="#141414"/>
<polygon points="549.90,716.35 533.90,713.90 533.90,718.80" fill="#141414"/>
<text x="513.6" y="711.6" font-size="15.4" text-anchor="middle" fill="#505050" letter-spacing="0.25">216</text>
<rect x="468.6" y="675.5" width="8.4" height="120.5" rx="4" fill="#575757"/>
<rect x="470" y="676" width="5.6" height="118" fill="none" stroke="#666" stroke-width="1" stroke-dasharray="1 1.5"/>
</svg></body></html>
